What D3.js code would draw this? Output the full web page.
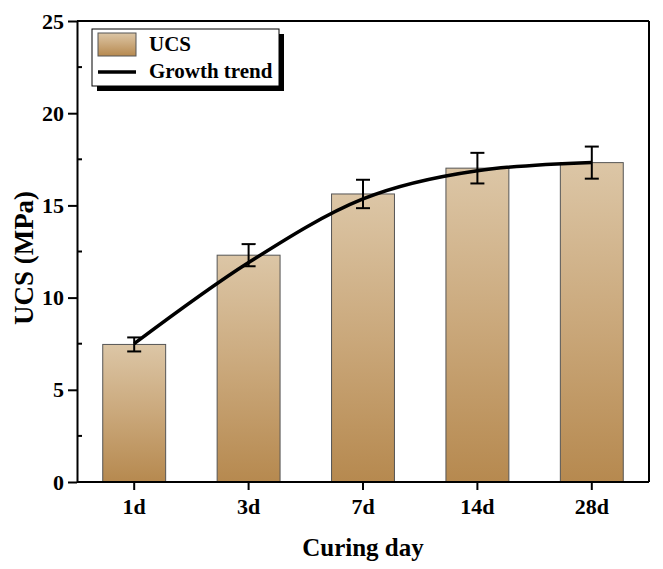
<!DOCTYPE html>
<html>
<head>
<meta charset="utf-8">
<script src="https://cdn.jsdelivr.net/npm/d3@7"></script>
<style>
  body { margin: 0; background: #fff; }
  svg { display: block; }
  svg text { font-family: "Liberation Serif", "Times New Roman", serif; font-weight: bold; fill: #000; }
</style>
</head>
<body>
<svg id="chart"></svg>
<script>
// chart data
const days = ["1d", "3d", "7d", "14d", "28d"];
const ucs = [7.46, 12.3, 15.62, 17.02, 17.32];
const ucsErr = [0.38, 0.6, 0.77, 0.83, 0.87];
const trend = [7.5, 11.9, 15.35, 16.88, 17.33];
const yTicks = [0, 5, 10, 15, 20, 25];
const yMinor = [2.5, 7.5, 12.5, 17.5, 22.5];

const width = 663;
const height = 569;
const margin = { top: 21, right: 14, bottom: 87, left: 77 };

const svg = d3.select("#chart")
  .attr("width", width)
  .attr("height", height);

const x = d3.scaleBand()
  .domain(days)
  .range([margin.left, width - margin.right])
  .paddingInner(0.45)
  .paddingOuter(0.225);

const y = d3.scaleLinear()
  .domain([0, 25])
  .range([height - margin.bottom, margin.top]);

// gradient for bars (light at top, darker at bottom)
const defs = svg.append("defs");
const grad = defs.append("linearGradient")
  .attr("id", "barGrad")
  .attr("x1", 0).attr("x2", 0)
  .attr("y1", 0).attr("y2", 1);
grad.append("stop").attr("offset", "0%").attr("stop-color", "#dcc6a6");
grad.append("stop").attr("offset", "50%").attr("stop-color", "#caa87b");
grad.append("stop").attr("offset", "100%").attr("stop-color", "#b6894f");

// bars
svg.append("g")
  .selectAll("rect")
  .data(days)
  .join("rect")
  .attr("x", d => x(d))
  .attr("y", (d, i) => y(ucs[i]))
  .attr("width", x.bandwidth())
  .attr("height", (d, i) => y(0) - y(ucs[i]))
  .attr("fill", "url(#barGrad)")
  .attr("stroke", "#555")
  .attr("stroke-width", 1);

// trend line
const line = d3.line()
  .x((d, i) => x(days[i]) + x.bandwidth() / 2)
  .y(d => y(d))
  .curve(d3.curveMonotoneX);

svg.append("path")
  .datum(trend)
  .attr("d", line)
  .attr("fill", "none")
  .attr("stroke", "#000")
  .attr("stroke-width", 3.5);

// error bars
const errG = svg.append("g")
  .attr("stroke", "#000")
  .attr("stroke-width", 2);
days.forEach((d, i) => {
  const cx = x(d) + x.bandwidth() / 2;
  const top = y(ucs[i] + ucsErr[i]);
  const bot = y(ucs[i] - ucsErr[i]);
  errG.append("line").attr("x1", cx).attr("x2", cx).attr("y1", top).attr("y2", bot);
  errG.append("line").attr("x1", cx - 7).attr("x2", cx + 7).attr("y1", top).attr("y2", top);
  errG.append("line").attr("x1", cx - 7).attr("x2", cx + 7).attr("y1", bot).attr("y2", bot);
});

// frame (top + right)
const frame = svg.append("g").attr("stroke", "#000").attr("stroke-width", 2);
frame.append("line")
  .attr("x1", margin.left).attr("x2", width - margin.right)
  .attr("y1", margin.top).attr("y2", margin.top);
frame.append("line")
  .attr("x1", width - margin.right).attr("x2", width - margin.right)
  .attr("y1", margin.top).attr("y2", height - margin.bottom);

// y axis
const yAxis = svg.append("g")
  .attr("transform", `translate(${margin.left},0)`)
  .call(d3.axisLeft(y).tickValues(yTicks).tickSize(9).tickSizeOuter(0).tickPadding(4));
yAxis.select(".domain").attr("stroke-width", 2);
yAxis.selectAll(".tick line").attr("stroke-width", 2);
yAxis.selectAll(".tick text").style("font-size", "22px");
yAxis.selectAll(".minor")
  .data(yMinor)
  .join("line")
  .attr("class", "minor")
  .attr("x1", 0).attr("x2", 5)
  .attr("y1", d => y(d)).attr("y2", d => y(d))
  .attr("stroke", "#000")
  .attr("stroke-width", 2);

// x axis
const xAxis = svg.append("g")
  .attr("transform", `translate(0,${height - margin.bottom})`)
  .call(d3.axisBottom(x).tickSize(8).tickSizeOuter(0).tickPadding(8));
xAxis.select(".domain").attr("stroke-width", 2)
  .attr("d", `M${margin.left},0H${width - margin.right}`);
xAxis.selectAll(".tick line").attr("stroke-width", 2);
xAxis.selectAll(".tick text").style("font-size", "22px");

// axis titles
svg.append("text")
  .attr("x", (margin.left + width - margin.right) / 2)
  .attr("y", 556)
  .attr("text-anchor", "middle")
  .style("font-size", "25px")
  .text("Curing day");

svg.append("text")
  .attr("transform", "translate(33,258) rotate(-90)")
  .attr("text-anchor", "middle")
  .style("font-size", "27px")
  .text("UCS (MPa)");

// legend
const lg = svg.append("g").attr("transform", "translate(92,29)");
lg.append("rect")
  .attr("x", 5).attr("y", 5)
  .attr("width", 187).attr("height", 57)
  .attr("fill", "#000");
lg.append("rect")
  .attr("x", 0).attr("y", 0)
  .attr("width", 187).attr("height", 57)
  .attr("fill", "#fff")
  .attr("stroke", "#000")
  .attr("stroke-width", 1);
lg.append("rect")
  .attr("x", 6).attr("y", 4)
  .attr("width", 38).attr("height", 23)
  .attr("fill", "url(#barGrad)")
  .attr("stroke", "#555");
lg.append("text")
  .attr("x", 57).attr("y", 22)
  .style("font-size", "21px")
  .text("UCS");
lg.append("line")
  .attr("x1", 6).attr("x2", 44)
  .attr("y1", 43).attr("y2", 43)
  .attr("stroke", "#000")
  .attr("stroke-width", 3.5);
lg.append("text")
  .attr("x", 57).attr("y", 49)
  .style("font-size", "21px")
  .text("Growth trend");
</script>
</body>
</html>
